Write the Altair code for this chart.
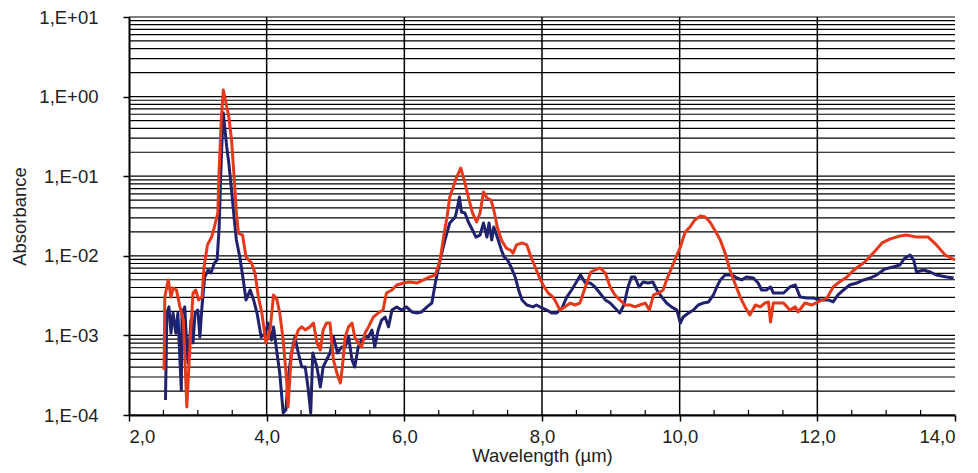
import altair as alt
import pandas as pd

# ---- data ----
red_x = [2.51, 2.52, 2.57, 2.61, 2.64, 2.69, 2.74, 2.79, 2.84, 2.89, 2.93, 2.97, 3.01, 3.06, 3.09,
         3.14, 3.20, 3.24, 3.29, 3.31, 3.34, 3.37, 3.40, 3.45, 3.49, 3.53, 3.56, 3.59, 3.65, 3.70,
         3.78, 3.83, 3.88, 3.93, 3.99, 4.05, 4.10, 4.15, 4.19, 4.24, 4.29, 4.31, 4.36, 4.41, 4.46,
         4.51, 4.56, 4.63, 4.68, 4.73, 4.78, 4.82, 4.87, 4.92, 4.97, 5.02, 5.07, 5.10, 5.14, 5.19,
         5.24, 5.28, 5.33, 5.38, 5.43, 5.48, 5.55, 5.62, 5.69, 5.74, 5.82, 5.89, 5.99, 6.08, 6.18,
         6.28, 6.37, 6.45, 6.52, 6.57, 6.62, 6.66, 6.71, 6.76, 6.82, 6.88, 6.93, 6.99, 7.05, 7.10,
         7.15, 7.20, 7.26, 7.30, 7.35, 7.41, 7.48, 7.54, 7.58, 7.63, 7.71, 7.78, 7.84, 7.90, 7.96,
         8.03, 8.09, 8.16, 8.21, 8.26, 8.33, 8.41, 8.48, 8.55, 8.60, 8.65, 8.71, 8.77, 8.84, 8.92,
         8.99, 9.06, 9.13, 9.21, 9.28, 9.35, 9.42, 9.50, 9.56, 9.62, 9.69, 9.76, 9.81, 9.87, 9.93,
         10.01, 10.08, 10.15, 10.22, 10.30, 10.37, 10.44, 10.51, 10.59, 10.66, 10.73, 10.80, 10.88,
         10.95, 11.02, 11.10, 11.17, 11.24, 11.29, 11.32, 11.36, 11.43, 11.51, 11.60, 11.68, 11.72,
         11.82, 11.92, 12.01, 12.14, 12.23, 12.30, 12.43, 12.50, 12.57, 12.69, 12.81, 12.94, 13.06,
         13.20, 13.30, 13.44, 13.61, 13.73, 13.86, 14.00]
red_y = [3.68e-4, 3.03e-3, 4.97e-3, 3.03e-3, 3.94e-3, 3.72e-3, 2.28e-3, 1.56e-3, 1.26e-4, 8.75e-4,
         3.41e-3, 3.72e-3, 2.79e-3, 3.03e-3, 7.23e-3, 1.37e-2, 1.72e-2, 2.30e-2, 3.45e-2, 1.197e-1,
         5.08e-1, 1.21, 9.06e-1, 5.55e-1, 2.85e-1, 8.96e-2, 3.45e-2, 1.93e-2, 1.82e-2, 9.66e-3,
         8.12e-3, 6.08e-3, 3.03e-3, 1.91e-3, 8.03e-4, 1.17e-3, 3.22e-3, 2.79e-3, 1.91e-3, 8.75e-4,
         2.75e-4, 1.26e-4, 6.01e-4, 8.75e-4, 1.17e-3, 1.28e-3, 1.17e-3, 1.28e-3, 1.43e-3, 8.03e-4,
         6.56e-4, 1.17e-3, 1.43e-3, 1.43e-3, 4.91e-4, 3.37e-4, 2.52e-4, 4.01e-4, 9.55e-4, 1.28e-3,
         1.43e-3, 9.55e-4, 8.03e-4, 7.15e-4, 1.07e-3, 1.28e-3, 1.70e-3, 1.91e-3, 2.08e-3, 3.41e-3,
         3.72e-3, 4.30e-3, 4.55e-3, 4.69e-3, 4.55e-3, 4.97e-3, 5.42e-3, 5.74e-3, 8.85e-3, 1.72e-2,
         3.07e-2, 5.48e-2, 7.32e-2, 9.77e-2, 1.268e-1, 8.22e-2, 5.48e-2, 3.45e-2, 2.66e-2, 3.45e-2,
         6.33e-2, 5.32e-2, 5.02e-2, 3.76e-2, 2.30e-2, 1.58e-2, 1.25e-2, 1.18e-2, 1.08e-2, 1.37e-2,
         1.45e-2, 1.37e-2, 9.66e-3, 7.23e-3, 5.42e-3, 4.06e-3, 3.41e-3, 3.03e-3, 2.55e-3, 2.08e-3,
         2.28e-3, 2.55e-3, 2.41e-3, 2.55e-3, 3.41e-3, 4.55e-3, 6.26e-3, 6.63e-3, 7.03e-3, 6.08e-3,
         4.06e-3, 3.22e-3, 2.79e-3, 2.41e-3, 2.41e-3, 2.28e-3, 2.41e-3, 2.55e-3, 2.08e-3, 3.22e-3,
         3.41e-3, 3.72e-3, 4.97e-3, 6.63e-3, 8.85e-3, 1.29e-2, 1.99e-2, 2.30e-2, 2.82e-2, 3.16e-2,
         3.07e-2, 2.66e-2, 2.11e-2, 1.58e-2, 1.08e-2, 6.63e-3, 4.55e-3, 3.03e-3, 2.28e-3, 1.80e-3,
         2.41e-3, 2.28e-3, 2.55e-3, 2.63e-3, 1.47e-3, 2.55e-3, 2.55e-3, 2.55e-3, 2.08e-3, 2.28e-3,
         1.97e-3, 2.55e-3, 2.41e-3, 2.63e-3, 2.95e-3, 4.06e-3, 4.55e-3, 5.42e-3, 6.26e-3, 7.03e-3,
         8.36e-3, 1.08e-2, 1.45e-2, 1.63e-2, 1.77e-2, 1.82e-2, 1.72e-2, 1.72e-2, 1.37e-2, 1.02e-2,
         8.85e-3]

blue_x = [2.53, 2.55, 2.58, 2.61, 2.64, 2.68, 2.71, 2.76, 2.77, 2.81, 2.84, 2.86, 2.90, 2.93, 2.96,
          3.00, 3.03, 3.06, 3.10, 3.15, 3.19, 3.24, 3.28, 3.31, 3.33, 3.35, 3.37, 3.39, 3.42, 3.45,
          3.49, 3.53, 3.56, 3.61, 3.66, 3.70, 3.76, 3.81, 3.86, 3.92, 3.98, 4.02, 4.07, 4.10, 4.15,
          4.19, 4.24, 4.28, 4.31, 4.36, 4.41, 4.46, 4.51, 4.56, 4.60, 4.64, 4.67, 4.73, 4.78, 4.82,
          4.87, 4.92, 4.97, 5.03, 5.09, 5.14, 5.19, 5.24, 5.28, 5.33, 5.38, 5.43, 5.48, 5.53, 5.57,
          5.62, 5.67, 5.72, 5.77, 5.82, 5.89, 5.96, 6.03, 6.11, 6.18, 6.25, 6.33, 6.40, 6.45, 6.52,
          6.59, 6.66, 6.74, 6.77, 6.80, 6.83, 6.88, 6.93, 6.99, 7.04, 7.10, 7.15, 7.20, 7.23, 7.27,
          7.30, 7.35, 7.41, 7.45, 7.50, 7.55, 7.61, 7.66, 7.71, 7.78, 7.87, 7.92, 8.00, 8.07, 8.14,
          8.21, 8.29, 8.36, 8.43, 8.50, 8.56, 8.63, 8.70, 8.77, 8.84, 8.92, 8.99, 9.06, 9.13, 9.19,
          9.25, 9.30, 9.35, 9.41, 9.47, 9.54, 9.61, 9.67, 9.74, 9.81, 9.88, 9.96, 10.01, 10.05,
          10.13, 10.20, 10.27, 10.34, 10.42, 10.49, 10.54, 10.59, 10.66, 10.76, 10.83, 10.90, 10.97,
          11.07, 11.14, 11.19, 11.26, 11.32, 11.36, 11.41, 11.51, 11.60, 11.68, 11.75, 11.85, 11.94,
          12.04, 12.16, 12.23, 12.30, 12.38, 12.47, 12.57, 12.67, 12.77, 12.86, 12.98, 13.10, 13.20,
          13.27, 13.35, 13.40, 13.44, 13.54, 13.64, 13.73, 13.88, 13.98]
blue_y = [1.54e-4, 1.91e-3, 2.28e-3, 1.07e-3, 1.91e-3, 1.07e-3, 1.91e-3, 2.06e-4, 1.91e-3, 2.28e-3,
          7.15e-4, 4.50e-4, 1.56e-3, 8.03e-4, 1.91e-3, 2.08e-3, 9.55e-4, 2.28e-3, 5.42e-3, 6.63e-3,
          6.08e-3, 8.12e-3, 8.85e-3, 2.30e-2, 8.96e-2, 2.61e-1, 6.22e-1, 4.15e-1, 2.33e-1, 1.466e-1,
          6.71e-2, 2.82e-2, 1.58e-2, 9.66e-3, 4.97e-3, 2.79e-3, 3.72e-3, 2.79e-3, 1.91e-3, 9.55e-4,
          1.07e-3, 1.43e-3, 8.75e-4, 1.28e-3, 6.01e-4, 3.37e-4, 1.06e-4, 1.16e-4, 2.75e-4, 6.01e-4,
          9.55e-4, 6.01e-4, 4.01e-4, 4.01e-4, 2.25e-4, 1.06e-4, 6.01e-4, 4.01e-4, 2.25e-4, 4.01e-4,
          4.91e-4, 6.01e-4, 9.55e-4, 6.01e-4, 7.15e-4, 7.15e-4, 9.55e-4, 4.91e-4, 4.01e-4, 7.15e-4,
          8.75e-4, 9.55e-4, 9.55e-4, 1.17e-3, 7.15e-4, 1.17e-3, 1.56e-3, 1.70e-3, 1.28e-3, 2.08e-3,
          2.28e-3, 2.08e-3, 2.28e-3, 1.97e-3, 1.91e-3, 1.97e-3, 2.28e-3, 2.55e-3, 4.55e-3, 8.85e-3,
          1.58e-2, 2.58e-2, 3.07e-2, 3.99e-2, 5.48e-2, 3.55e-2, 3.45e-2, 2.66e-2, 2.11e-2, 1.72e-2,
          1.82e-2, 2.58e-2, 1.72e-2, 2.58e-2, 1.58e-2, 2.30e-2, 1.72e-2, 1.18e-2, 9.66e-3, 8.85e-3,
          7.23e-3, 5.42e-3, 3.72e-3, 2.79e-3, 2.41e-3, 2.28e-3, 2.41e-3, 2.21e-3, 2.08e-3, 1.91e-3,
          1.91e-3, 2.21e-3, 3.03e-3, 3.72e-3, 4.69e-3, 5.74e-3, 4.55e-3, 4.55e-3, 4.06e-3, 3.41e-3,
          2.79e-3, 2.55e-3, 2.21e-3, 1.91e-3, 2.41e-3, 4.06e-3, 5.42e-3, 5.42e-3, 4.06e-3, 4.69e-3,
          4.55e-3, 4.69e-3, 3.72e-3, 3.03e-3, 2.55e-3, 2.28e-3, 2.08e-3, 1.43e-3, 1.70e-3, 1.91e-3,
          2.08e-3, 2.41e-3, 2.55e-3, 2.63e-3, 3.22e-3, 4.06e-3, 4.97e-3, 5.74e-3, 5.74e-3, 5.26e-3,
          4.97e-3, 5.42e-3, 5.26e-3, 4.55e-3, 3.72e-3, 3.72e-3, 4.06e-3, 3.41e-3, 3.41e-3, 3.41e-3,
          4.06e-3, 4.30e-3, 3.03e-3, 2.95e-3, 2.95e-3, 2.79e-3, 2.79e-3, 2.63e-3, 3.22e-3, 3.72e-3,
          4.30e-3, 4.55e-3, 4.97e-3, 5.26e-3, 5.74e-3, 6.83e-3, 7.23e-3, 7.66e-3, 9.38e-3, 1.02e-2,
          8.85e-3, 6.26e-3, 6.63e-3, 6.26e-3, 5.74e-3, 5.42e-3, 5.26e-3]

x_major = [2, 4, 6, 8, 10, 12, 14]
x_grid = [4, 6, 8, 10, 12]
x_minor = [2.5, 3, 3.5, 4.5, 5, 5.5, 6.5, 7, 7.5, 8.5, 9, 9.5, 10.5, 11, 11.5, 12.5, 13, 13.5]
y_decades = [1e-4, 1e-3, 1e-2, 1e-1, 1e0, 1e1]
y_grid = [m * 10.0 ** e for e in range(-4, 1) for m in range(1, 10)] + [10.0]

FONT = "Liberation Sans"
W, H = 826, 398

lines_df = pd.concat([
    pd.DataFrame({"wl": blue_x, "abs": blue_y, "series": "blue", "ord": 0}),
    pd.DataFrame({"wl": red_x, "abs": red_y, "series": "red", "ord": 1}),
])

xscale = alt.Scale(domain=[2, 14], nice=False, zero=False)
yscale = alt.Scale(type="log", domain=[1e-4, 10], nice=False)

hgrid = alt.Chart(pd.DataFrame({"v": y_grid})).mark_rule(color="black", strokeWidth=1.2).encode(
    y=alt.Y("v:Q", scale=yscale, axis=None)
)
vgrid = alt.Chart(pd.DataFrame({"v": x_grid})).mark_rule(color="black", strokeWidth=1.5).encode(
    x=alt.X("v:Q", scale=xscale, axis=None)
)
minor = alt.Chart(pd.DataFrame({"v": x_minor})).mark_rule(color="black", strokeWidth=1.2).encode(
    x=alt.X("v:Q", scale=xscale, axis=None),
    y=alt.value(H),
    y2=alt.value(H - 5),
)

lines = alt.Chart(lines_df).mark_line(strokeWidth=3, strokeJoin="round").encode(
    x=alt.X("wl:Q", scale=xscale,
            axis=alt.Axis(values=x_major, title="Wavelength (µm)",
                          labelExpr="replace(format(datum.value, '.1f'), '.', ',')",
                          grid=False, tickSize=6, tickWidth=1.5, tickColor="black",
                          domainColor="black", domainWidth=2,
                          labelFont=FONT, titleFont=FONT, labelFontSize=18.5, titleFontSize=18.5,
                          labelColor="#222222", titleColor="#222222", titleFontWeight="normal",
                          labelPadding=6, titlePadding=1)),
    y=alt.Y("abs:Q", scale=yscale,
            axis=alt.Axis(values=y_decades, title="Absorbance",
                          labelExpr="'1,E' + (datum.value >= 1 ? '+' : '-') + '0' + abs(round(log(datum.value) / LN10))",
                          grid=False, tickSize=6, tickWidth=1.5, tickColor="black",
                          domainColor="black", domainWidth=2,
                          labelFont=FONT, titleFont=FONT, labelFontSize=18.5, titleFontSize=18.5,
                          labelColor="#222222", titleColor="#222222", titleFontWeight="normal",
                          labelPadding=25, titlePadding=9)),
    color=alt.Color("series:N", scale=alt.Scale(domain=["blue", "red"], range=["#20226e", "#e5391c"]),
                    legend=None),
    detail="series:N",
    order=alt.Order("ord:Q"),
)

chart = alt.layer(hgrid, vgrid, minor, lines).resolve_axis(
    x="independent", y="independent"
).properties(
    width=W, height=H,
    background="white",
    autosize=alt.AutoSizeParams(type="none"),
    padding={"left": 121, "top": 9, "right": 15, "bottom": 57},
).configure_view(stroke=None)

chart.save("out.html", embed_options={"renderer": "svg", "actions": False})
